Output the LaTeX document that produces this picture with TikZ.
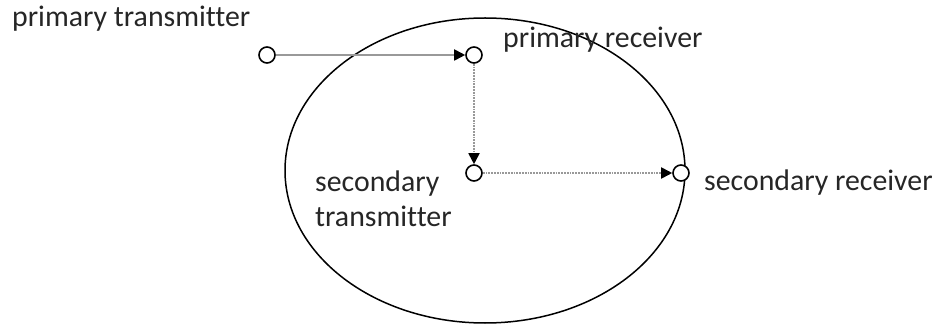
\documentclass[tikz,border=0pt]{standalone}
\usepackage{fontspec}
\setmainfont{Carlito}[Ligatures=CommonOff]
\usepackage{tikz}
\usetikzlibrary{shapes.geometric, arrows.meta}

\begin{document}
\begin{tikzpicture}[
  x=1pt, y=-1pt,
  station/.style={circle, draw, line width=1.6pt, fill=white, minimum size=16pt, inner sep=0pt},
  lbl/.style={anchor=base west, inner sep=0pt, text=black!85, font=\fontsize{29.8}{35}\selectfont},
  region/.style={ellipse, draw, line width=1.5pt, minimum width=400pt, minimum height=305pt, inner sep=0pt},
  arr/.style={-{Triangle[length=11pt, width=11pt, color=black]}, line width=1.8pt, draw=black!40},
  dotarr/.style={arr, densely dotted}
]
\useasboundingbox (0,0) rectangle (941,328);
\node[region] (cell) at (485,170.5) {};

\node[station] (pt) at (267,55) {};
\node[station] (pr) at (474,55) {};
\node[station] (st) at (474,173) {};
\node[station] (sr) at (681,173) {};

\node[lbl] (ptlbl) at (12,27) {primary transmitter};
\node[lbl] (prlbl) at (503,48) {primary receiver};
\node[lbl] (srlbl) at (704,191) {secondary receiver};
\node[lbl, align=left] (stlbl) at (315,227) {secondary\\transmitter};

\draw[arr] (pt) -- (pr);
\draw[dotarr] (pr) -- (st);
\draw[dotarr] (st) -- (sr);
\end{tikzpicture}
\end{document}
